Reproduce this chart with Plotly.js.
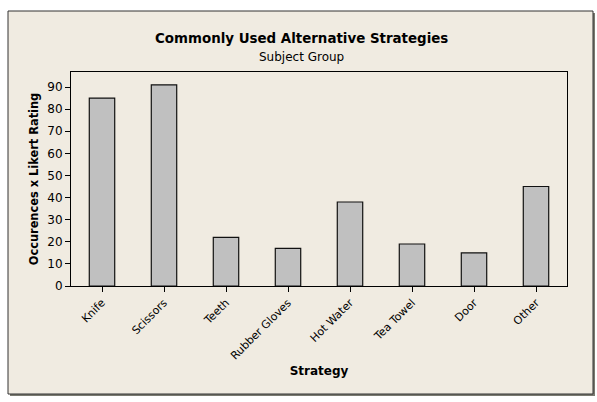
<!DOCTYPE html>
<html><head><meta charset="utf-8">
<script src="https://cdn.plot.ly/plotly-3.0.1.min.js"></script>
<style>html,body{margin:0;padding:0;background:#fff;}#chart{width:597px;height:402px;}</style>
</head><body><div id="chart"></div>
<script>
const categories = ["Knife","Scissors","Teeth","Rubber Gloves","Hot Water","Tea Towel","Door","Other"];
const values = [85, 91, 22, 17, 38, 19, 15, 45];
const yTicks = [0,10,20,30,40,50,60,70,80,90];

const W = 597, H = 402;
const m = {l:71, r:30, t:72, b:116};
const pw = W - m.l - m.r, ph = H - m.t - m.b;
const px = x => (x - m.l) / pw;
const py = y => (H - m.b - y) / ph;
const font = "DejaVu Sans, Verdana, sans-serif";

const trace = {
  type: "bar", x: categories, y: values,
  marker: {color: "#c0c0c0", line: {color: "#111", width: 1.2}},
  hoverinfo: "x+y"
};

const layout = {
  width: W, height: H, margin: m,
  paper_bgcolor: "#ffffff", plot_bgcolor: "#ffffff",
  showlegend: false, bargap: 0.59,
  font: {family: font, size: 11, color: "#000"},
  xaxis: {
    type: "category", tickangle: -45, ticks: "outside", ticklen: 5, tickcolor: "#000",
    showline: true, linecolor: "#000", linewidth: 1, mirror: true, showgrid: false,
    tickfont: {family: font, size: 11},
    title: {text: "<b>Strategy</b>", font: {family: font, size: 12}, standoff: 5}
  },
  yaxis: {
    range: [0, 96.8], tickvals: yTicks, ticks: "outside", ticklen: 5, tickcolor: "#000",
    showline: true, linecolor: "#000", linewidth: 1, mirror: true, showgrid: false, zeroline: false,
    tickfont: {family: font, size: 12},
    title: {text: "<b>Occurences x Likert Rating</b>", font: {family: font, size: 11.4}, standoff: 6}
  },
  shapes: [
    {type: "rect", xref: "paper", yref: "paper", layer: "below",
     x0: px(10), x1: px(595), y0: py(396), y1: py(13),
     line: {width: 0}, fillcolor: "#7a7a70"},
    {type: "rect", xref: "paper", yref: "paper", layer: "below",
     x0: px(8), x1: px(593), y0: py(394), y1: py(11),
     line: {width: 1, color: "#333"}, fillcolor: "#f0ebe1"}
  ],
  annotations: [
    {xref: "paper", yref: "paper", x: px(301), y: py(39), text: "<b>Commonly Used Alternative Strategies</b>",
     showarrow: false, font: {family: font, size: 13.4}, xanchor: "center", yanchor: "middle"},
    {xref: "paper", yref: "paper", x: px(301), y: py(57), text: "Subject Group",
     showarrow: false, font: {family: font, size: 12}, xanchor: "center", yanchor: "middle"}
  ]
};
Plotly.newPlot("chart", [trace], layout, {displayModeBar: false, staticPlot: true});
</script></body></html>
